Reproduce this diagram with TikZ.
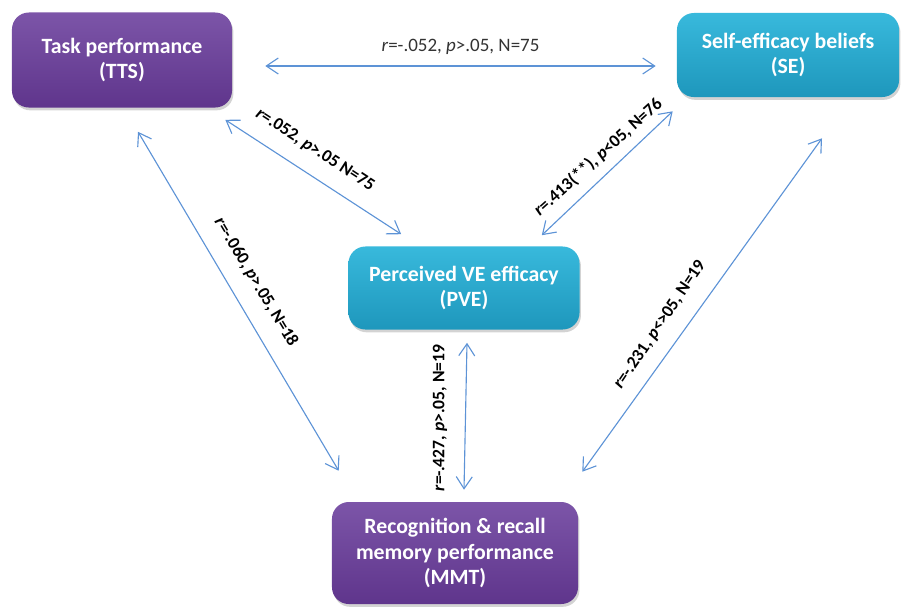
\documentclass[tikz,border=0pt]{standalone}
\usepackage{fontspec}
\setmainfont{Carlito}
\usepackage{xcolor}
\usepackage{tikz}
\usetikzlibrary{arrows.meta,calc,shadows}

\definecolor{purpleTop}{HTML}{7C55A8}
\definecolor{purpleBot}{HTML}{5F358C}
\definecolor{tealTop}{HTML}{38B9DC}
\definecolor{tealBot}{HTML}{1E97BC}
\definecolor{linkBlue}{HTML}{5D93D6}

\begin{document}
\begin{tikzpicture}[
  x=0.025cm, y=-0.025cm,
  box/.style={rectangle, rounded corners=12pt, draw=none, align=center,
              font=\fontsize{15.5}{18}\selectfont\bfseries, text=white,
              drop shadow={opacity=0.35, shadow xshift=1pt, shadow yshift=-2pt}},
  violet/.style={box, top color=purpleTop, bottom color=purpleBot},
  teal/.style={box, top color=tealTop, bottom color=tealBot},
  arr/.style={{Straight Barb[length=3mm,width=4mm]}-{Straight Barb[length=3mm,width=4mm]},
              draw=linkBlue, line width=0.8pt},
  stat/.style={font=\fontsize{12.5}{14}\selectfont\bfseries, text=black, inner sep=1pt}]
  \useasboundingbox (0,0) rectangle (905,607);
  \node[violet, minimum width=5.5cm, minimum height=2.375cm] (tts) at (122,60) {Task performance\\(TTS)};
  \node[teal, minimum width=5.55cm, minimum height=2.1cm] (se) at (788,55) {Self-efficacy beliefs\\(SE)};
  \node[teal, minimum width=5.775cm, minimum height=2.075cm] (pve) at (464,288) {Perceived VE efficacy\\(PVE)};
  \node[violet, minimum width=6.15cm, minimum height=2.55cm] (mmt) at (455,553) {Recognition \& recall\\memory performance\\(MMT)};
  % correlations
  \draw[arr] ($(tts.east)+(33,6)$) -- ($(se.west)+(-21,11)$)
    node[midway, above=1.5mm, font=\fontsize{13.5}{15}\selectfont, text=black!80] {\textit{r}=-.052, \textit{p}>.05, N=75};
  \draw[arr] ($(tts.south east)+(-7,12)$) -- ($(pve.north west)+(53,-12)$);
  \draw[arr] ($(se.south west)+(-4,14)$) -- ($(pve.north east)+(-38,-11)$);
  \draw[arr] ($(tts.south)+(16,24)$) -- ($(mmt.north west)+(7,-31)$);
  \draw[arr] ($(pve.south)+(3,13)$) -- ($(mmt.north)+(9,-12)$);
  \draw[arr] ($(se.south)+(34,41)$) -- ($(mmt.north east)+(4,-30)$);
  \node[stat, rotate=-33] (l1) at (315,150) {\textit{r}=.052, \textit{p}>.05 N=75};
  \node[stat, rotate=42] (l2) at (598,157) {\textit{r}=.413(**), \textit{p}<05, N=76};
  \node[stat, rotate=-59] (l3) at (256,282) {\textit{r}=-.060, \textit{p}>.05, N=18};
  \node[stat, rotate=90] (l4) at (440,418) {\textit{r}=-.427, \textit{p}>.05, N=19};
  \node[stat, rotate=56] (l5) at (660,325) {\textit{r}=-.231, \textit{p}<>05, N=19};
\end{tikzpicture}
\end{document}
